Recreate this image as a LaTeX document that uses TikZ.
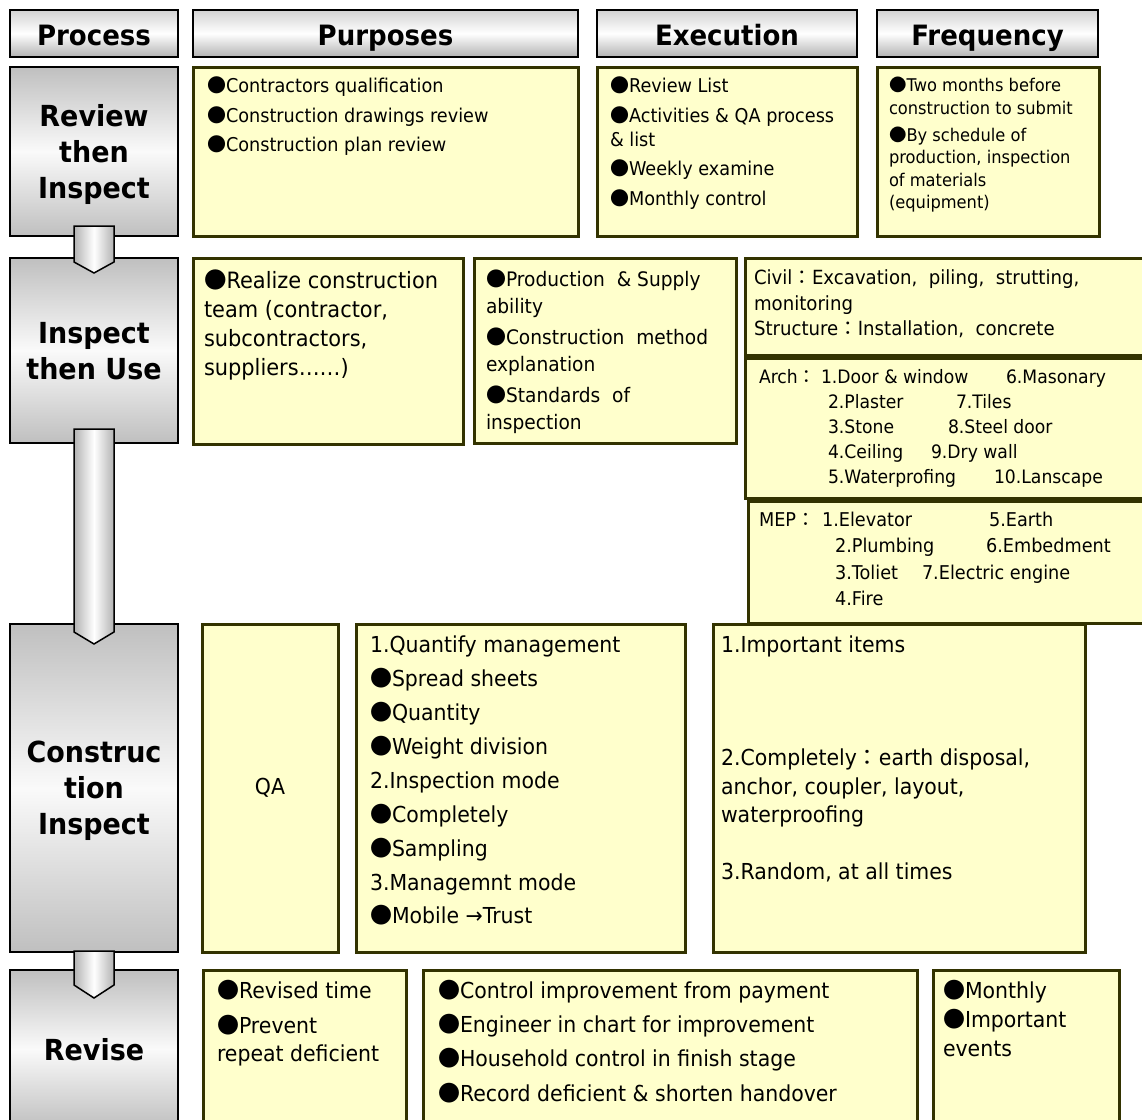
\documentclass[tikz,border=0pt]{standalone}
\usepackage{fontspec}
\setmainfont{DejaVu Sans}[FakeStretch=0.93]
\newfontfamily\cjk{Noto Sans CJK TC}
\usetikzlibrary{shapes,arrows,positioning}

\definecolor{noteFill}{HTML}{FFFFCC}
\definecolor{noteLine}{HTML}{333300}
\newcommand{\dotb}{{\cjk ●}}
\newcommand{\fwc}{{\cjk ：}}

\tikzstyle{header} = [rectangle, draw, line width=2pt, top color=gray!35, bottom color=gray!60,
middle color=white, anchor=north west, inner sep=0pt, outer sep=0pt, text height=23pt, text depth=0pt,
font=\bfseries\fontsize{28}{34}\selectfont]
\tikzstyle{process} = [rectangle, draw, line width=2pt, top color=gray!50, bottom color=gray!50,
middle color=gray!4, anchor=north west, inner sep=0pt, outer sep=0pt, align=center, text depth=0pt,
font=\bfseries\fontsize{29}{36}\selectfont]
\tikzstyle{note} = [rectangle, draw=noteLine, fill=noteFill, line width=3pt, anchor=north west,
inner sep=0pt, outer sep=0pt]
\tikzstyle{txt} = [inner sep=0pt, outer sep=0pt, anchor=north west, align=left]
\tikzstyle{flow} = [draw, line width=1.5pt, left color=gray!60, right color=gray!60, middle color=white]

\begin{document}
\begin{tikzpicture}[x=1pt,y=-1pt]

   \useasboundingbox (0,0) rectangle (1142,1119);
   \clip (0,0) rectangle (1142,1119);

   % Column headers
   \node[header, minimum width=168pt, minimum height=47pt] (hProc) at (10,10) {Process};
   \node[header, minimum width=385pt, minimum height=47pt] (hPurp) at (193,10) {Purposes};
   \node[header, minimum width=260pt, minimum height=47pt] (hExec) at (597,10) {Execution};
   \node[header, minimum width=221pt, minimum height=47pt] (hFreq) at (877,10) {Frequency};

   % Process steps
   \node[process, minimum width=168pt, minimum height=169pt] (pReview) at (10,67) {Review\\then\\Inspect};
   \node[process, minimum width=168pt, minimum height=185pt] (pUse) at (10,258) {Inspect\\then Use};
   \node[process, minimum width=168pt, minimum height=328pt] (pConst) at (10,624) {Construc\\tion\\Inspect};
   \node[process, minimum width=168pt, minimum height=158pt] (pRevise) at (10,970) {Revise};

   % Review then Inspect
   \node[note, minimum width=385pt, minimum height=169pt] (purpA) at (193,67) {};
   \node[note, minimum width=260pt, minimum height=169pt] (execA) at (597,67) {};
   \node[note, minimum width=222pt, minimum height=169pt] (freqA) at (877,67) {};

   \node[txt, font=\fontsize{19}{24}\selectfont] (purpAt) [below right=10pt and 14pt of purpA.north west]
      {\dotb Contractors qualification\\[5.5pt]\dotb Construction drawings review\\[5.5pt]\dotb Construction plan review};
   \node[txt, font=\fontsize{19}{24}\selectfont] (execAt) [below right=10pt and 13pt of execA.north west]
      {\dotb Review List\\[6pt]\dotb Activities \& QA process\\\& list\\[5pt]\dotb Weekly examine\\[6pt]\dotb Monthly control};
   \node[txt, font=\fontsize{17.5}{22.5}\selectfont] (freqAt) [below right=10pt and 12pt of freqA.north west]
      {\dotb Two months before\\construction to submit\\[4.5pt]\dotb By schedule of\\production, inspection\\of materials\\(equipment)};

   % Inspect then Use
   \node[note, minimum width=270pt, minimum height=186pt] (teamB) at (193,258) {};
   \node[note, minimum width=262pt, minimum height=185pt] (prodB) at (474,258) {};
   \node[note, minimum width=410pt, minimum height=97pt] (civilB) at (745,258) {};
   \node[note, minimum width=410pt, minimum height=140pt] (archB) at (745,358) {};
   \node[note, minimum width=410pt, minimum height=122pt] (mepB) at (748,501) {};

   \node[txt, font=\fontsize{22.5}{29}\selectfont] (teamBt) [below right=12pt and 11pt of teamB.north west]
      {\dotb Realize construction\\team (contractor,\\subcontractors,\\suppliers……)};
   \node[txt, font=\fontsize{20}{27}\selectfont] (prodBt) [below right=12pt and 12pt of prodB.north west]
      {\dotb Production \ \& Supply\\ability\\[4pt]\dotb Construction \ method\\explanation\\[4pt]\dotb Standards \ of\\inspection};
   \node[txt, font=\fontsize{19.5}{25.5}\selectfont] (civilBt) [below right=12pt and 9pt of civilB.north west]
      {Civil\fwc Excavation, \ piling, \ strutting,\\monitoring\\Structure\fwc Installation, \ concrete};
   \node[txt, font=\fontsize{18.5}{25}\selectfont] (archBt) [below right=11pt and 14pt of archB.north west]
      {\makebox[62pt][l]{Arch\fwc}\makebox[185pt][l]{1.Door \& window}6.Masonary\\
       \hspace*{69pt}\makebox[128pt][l]{2.Plaster}7.Tiles\\
       \hspace*{69pt}\makebox[120pt][l]{3.Stone}8.Steel door\\
       \hspace*{69pt}\makebox[103pt][l]{4.Ceiling}9.Dry wall\\
       \hspace*{69pt}\makebox[166pt][l]{5.Waterprofing}10.Lanscape};
   \node[txt, font=\fontsize{19}{26.5}\selectfont] (mepBt) [below right=11pt and 11pt of mepB.north west]
      {\makebox[63pt][l]{MEP\fwc}\makebox[167pt][l]{1.Elevator}5.Earth\\
       \hspace*{76pt}\makebox[151pt][l]{2.Plumbing}6.Embedment\\
       \hspace*{76pt}\makebox[87pt][l]{3.Toliet}7.Electric engine\\
       \hspace*{76pt}4.Fire};

   % Construction Inspect
   \node[note, minimum width=136pt, minimum height=328pt, font=\fontsize{22}{28}\selectfont] (qaC) at (202,624) {QA};
   \node[note, minimum width=329pt, minimum height=328pt] (quantC) at (356,624) {};
   \node[note, minimum width=372pt, minimum height=328pt] (itemsC) at (713,624) {};

   \node[txt, font=\fontsize{22}{33.9}\selectfont] (quantCt) [below right=12pt and 14pt of quantC.north west]
      {1.Quantify management\\\dotb Spread sheets\\\dotb Quantity\\\dotb Weight division\\2.Inspection mode\\
       \dotb Completely\\\dotb Sampling\\3.Managemnt mode\\\dotb Mobile →Trust};
   \node[txt, font=\fontsize{22}{28.5}\selectfont] (itemsCt) [below right=12pt and 8pt of itemsC.north west]
      {1.Important items\\[84.5pt]2.Completely\fwc earth disposal,\\anchor, coupler, layout,\\waterproofing\\[28.5pt]
       3.Random, at all times};

   % Revise
   \node[note, minimum width=203pt, minimum height=170pt] (timeD) at (203,970) {};
   \node[note, minimum width=494pt, minimum height=170pt] (ctrlD) at (423,970) {};
   \node[note, minimum width=186pt, minimum height=170pt] (eventsD) at (933,970) {};

   \node[txt, font=\fontsize{22}{28}\selectfont] (timeDt) [below right=10pt and 14pt of timeD.north west]
      {\dotb Revised time\\[7pt]\dotb Prevent\\repeat deficient};
   \node[txt, font=\fontsize{22}{34.3}\selectfont] (ctrlDt) [below right=10pt and 15pt of ctrlD.north west]
      {\dotb Control improvement from payment\\\dotb Engineer in chart for improvement\\
       \dotb Household control in finish stage\\\dotb Record deficient \& shorten handover};
   \node[txt, font=\fontsize{22}{29}\selectfont] (eventsDt) [below right=10pt and 10pt of eventsD.north west]
      {\dotb Monthly\\\dotb Important\\events};

   %% Arrows between steps
   \path[flow] ([xshift=-20pt,yshift=10pt]pReview.south) -- ([xshift=-20pt,yshift=-4pt]pUse.north)
      -- ([yshift=-15pt]pUse.north) -- ([xshift=20pt,yshift=-4pt]pUse.north)
      -- ([xshift=20pt,yshift=10pt]pReview.south) -- cycle;
   \path[flow] ([xshift=-20pt,yshift=14pt]pUse.south) -- ([xshift=-20pt,yshift=-8pt]pConst.north)
      -- ([yshift=-20pt]pConst.north) -- ([xshift=20pt,yshift=-8pt]pConst.north)
      -- ([xshift=20pt,yshift=14pt]pUse.south) -- cycle;
   \path[flow] ([xshift=-20pt,yshift=1pt]pConst.south) -- ([xshift=-20pt,yshift=-15pt]pRevise.north)
      -- ([yshift=-28pt]pRevise.north) -- ([xshift=20pt,yshift=-15pt]pRevise.north)
      -- ([xshift=20pt,yshift=1pt]pConst.south) -- cycle;

\end{tikzpicture}
\end{document}
